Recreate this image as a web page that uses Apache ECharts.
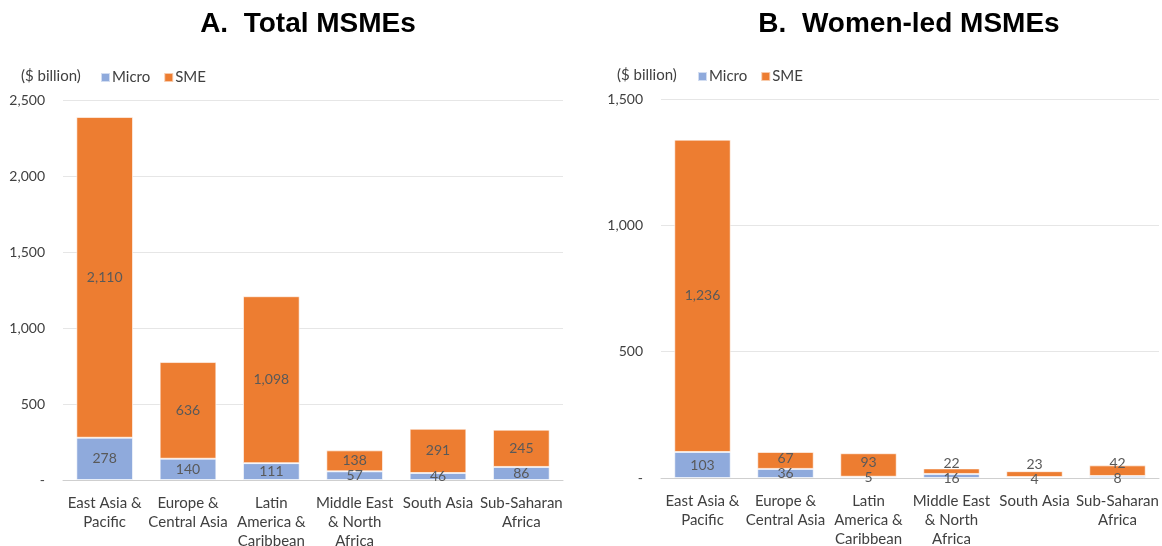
<!DOCTYPE html>
<html><head><meta charset="utf-8">
<script src="https://cdn.jsdelivr.net/npm/echarts@6/dist/echarts.min.js"></script>
<style>html,body{margin:0;padding:0;background:#fff}#c{width:1162px;height:546px}</style>
</head><body><div id="c"></div>
<script>
const categories = ["East Asia &\nPacific","Europe &\nCentral Asia","Latin\nAmerica &\nCaribbean","Middle East\n& North\nAfrica","South Asia","Sub-Saharan\nAfrica"];
const totalMicro = [278,140,111,57,46,86];
const totalSME = [2110,636,1098,138,291,245];
const womenMicro = [103,36,5,16,4,8];
const womenSME = [1236,67,93,22,23,42];
const titleA = "A.  Total MSMEs";
const titleB = "B.  Women-led MSMEs";
const unitLabel = "($ billion)";

const FONT = "Lato, 'Open Sans', sans-serif";
const TXT = '#404040';
const C_MICRO = '#8FAADC';
const C_SME = '#ED7D31';

const fmt = v => v === 0 ? '-' : v.toLocaleString('en-US');

function yAxis(grid, max, interval){
  return {type:'value', gridIndex:grid, min:0, max:max, interval:interval,
    axisLine:{show:false}, axisTick:{show:false},
    axisLabel:{formatter:fmt, color:TXT, fontSize:14, fontFamily:FONT, margin:18},
    splitLine:{lineStyle:{color:'#E6E6E6', width:1}}};
}
function xAxis(grid){
  return {type:'category', gridIndex:grid, data:categories,
    axisLine:{lineStyle:{color:'#CFCFCF'}}, axisTick:{show:false},
    axisLabel:{color:TXT, fontSize:15, fontFamily:FONT, lineHeight:19, margin:14, interval:0}};
}
function bar(name, data, xi, color, offsets){
  return {name:name, type:'bar', stack:'s'+xi, xAxisIndex:xi, yAxisIndex:xi,
    data:data.map((v,i)=>({value:v, label:{offset:[0, offsets ? offsets[i] : 0]}})),
    barCategoryGap:'32%',
    itemStyle:{color:color, borderColor:'rgba(255,255,255,0.6)', borderWidth:1},
    label:{show:true, position:'inside', color:'#595959', fontSize:14, fontFamily:FONT,
      formatter:p=>p.value.toLocaleString('en-US')}};
}
function build(offs){
  return {
    animation:false,
    title:[
      {text:titleA, left:303, textAlign:'center', top:5, textStyle:{fontFamily:'Liberation Sans, Arial', fontWeight:'bold', fontSize:28, color:'#000'}},
      {text:titleB, left:904, textAlign:'center', top:5, textStyle:{fontFamily:'Liberation Sans, Arial', fontWeight:'bold', fontSize:28, color:'#000'}}
    ],
    graphic:[
      {type:'text', left:21, top:69, style:{text:unitLabel, font:'15px '+FONT, fill:TXT}},
      {type:'text', left:617, top:68, style:{text:unitLabel, font:'15px '+FONT, fill:TXT}}
    ],
    legend:[
      {left:100, top:70, padding:0, icon:'rect', itemWidth:9, itemHeight:9, itemGap:13, data:['Micro','SME'], textStyle:{fontSize:15, fontFamily:FONT, color:TXT, padding:[0,0,0,-3]}},
      {left:697, top:69, padding:0, icon:'rect', itemWidth:9, itemHeight:9, itemGap:13, data:['Micro','SME'], textStyle:{fontSize:15, fontFamily:FONT, color:TXT, padding:[0,0,0,-3]}}
    ],
    grid:[
      {left:63, right:599, top:100, bottom:66, outerBoundsMode:'none', containLabel:false},
      {left:661, right:3, top:99, bottom:68, outerBoundsMode:'none', containLabel:false}
    ],
    xAxis:[xAxis(0), xAxis(1)],
    yAxis:[yAxis(0,2500,500), yAxis(1,1500,500)],
    series:[
      bar('Micro', totalMicro, 0, C_MICRO, offs[0]),
      bar('SME', totalSME, 0, C_SME, offs[1]),
      bar('Micro', womenMicro, 1, C_MICRO, offs[2]),
      bar('SME', womenSME, 1, C_SME, offs[3])
    ]
  };
}
const chart = echarts.init(document.getElementById('c'));
chart.setOption(build([null,null,null,null]));
// push apart stacked labels that would collide (as the original's label placement does)
function sep(micro, sme, gi){
  const up = [], down = [];
  micro.forEach((m,i)=>{
    const yM = chart.convertToPixel({gridIndex:gi}, [i, m/2])[1];
    const yS = chart.convertToPixel({gridIndex:gi}, [i, m + sme[i]/2])[1];
    const d = yM - yS, need = 15 - d;
    if (need > 0){ up.push(-need*0.8); down.push(need*0.2); }
    else { up.push(0); down.push(0); }
  });
  return [down, up];
}
const a = sep(totalMicro, totalSME, 0), b = sep(womenMicro, womenSME, 1);
chart.setOption(build([a[0], a[1], b[0], b[1]]));
</script></body></html>
